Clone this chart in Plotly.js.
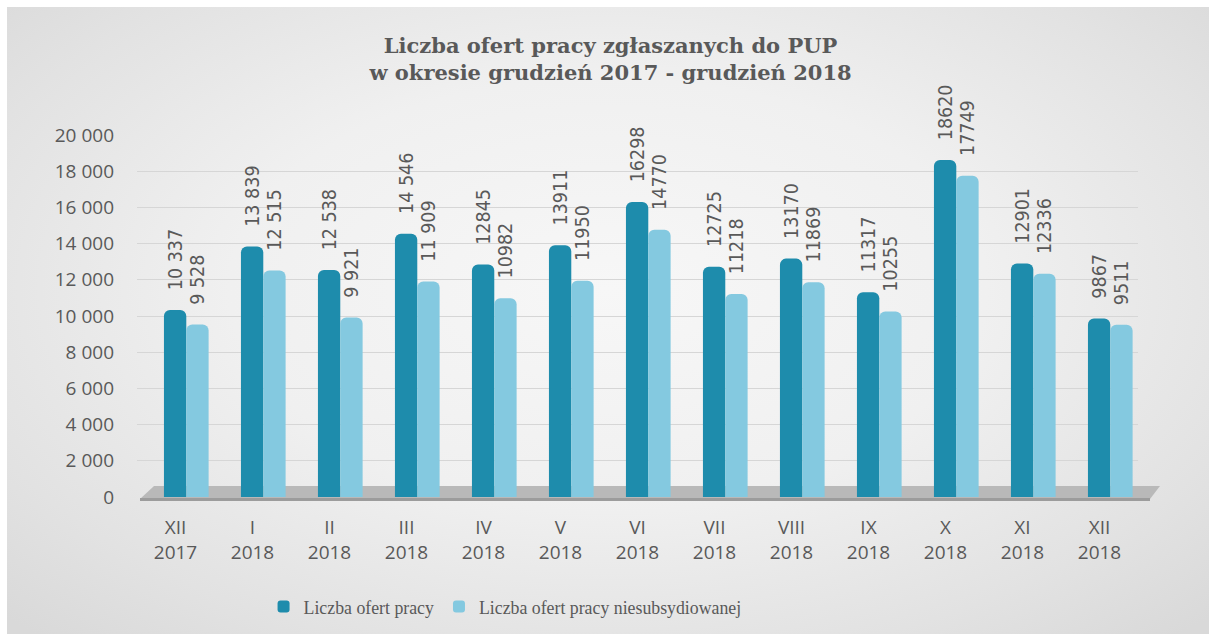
<!DOCTYPE html>
<html>
<head>
<meta charset="utf-8">
<script src="https://cdn.plot.ly/plotly-3.0.1.min.js"></script>
<style>
  html, body { margin: 0; padding: 0; background: #ffffff; }
  #bg { position: absolute; left: 7px; top: 7px; width: 1202px; height: 627px;
        background: radial-gradient(ellipse 70% 75% at 50% 45%, #f7f7f7 0%, #f0f0f0 45%, #e2e2e2 80%, #d9d9d9 100%); }
  #chart { position: absolute; left: 0; top: 0; width: 1209px; height: 634px; }
</style>
</head>
<body>
<div id="bg"></div>
<div id="chart"></div>
<script>
// ---- data ----
const categories = ["XII<br>2017", "I<br>2018", "II<br>2018", "III<br>2018", "IV<br>2018", "V<br>2018",
                    "VI<br>2018", "VII<br>2018", "VIII<br>2018", "IX<br>2018", "X<br>2018", "XI<br>2018", "XII<br>2018"];
const seriesNames = ["Liczba ofert pracy", "Liczba ofert pracy niesubsydiowanej"];
const ofertyPracy = [10337, 13839, 12538, 14546, 12845, 13911, 16298, 12725, 13170, 11317, 18620, 12901, 9867];
const ofertyNiesubs = [9528, 12515, 9921, 11909, 10982, 11950, 14770, 11218, 11869, 10255, 17749, 12336, 9511];
const labelsPracy = ["10 337", "13 839", "12 538", "14 546", "12845", "13911", "16298", "12725", "13170", "11317", "18620", "12901", "9867"];
const labelsNiesubs = ["9 528", "12 515", "9 921", "11 909", "10982", "11950", "14770", "11218", "11869", "10255", "17749", "12336", "9511"];
const titleText = "Liczba ofert pracy zgłaszanych do PUP<br>w okresie grudzień 2017 - grudzień 2018";

// ---- layout geometry ----
const W = 1209, H = 634;
const M = { l: 137, r: 71, t: 135, b: 137 };
const PW = W - M.l - M.r, PH = H - M.t - M.b;
const px = x => (x - M.l) / PW;
const py = y => (H - M.b - y) / PH;

const labelFont = { family: "DejaVu Sans Condensed, DejaVu Sans, sans-serif", size: 19.5, color: "#595959" };
const pad = "\u00a0\u00a0\u00a0";

const traces = [
  {
    type: "bar", name: seriesNames[0], x: categories, y: ofertyPracy,
    text: labelsPracy, texttemplate: pad + "%{text}", textposition: "outside", textangle: -90, constraintext: "none",
    textfont: labelFont, cliponaxis: false,
    offset: -0.15, width: 0.29,
    marker: { color: "#1e8cac", cornerradius: 6, line: { width: 0 } },
    hoverinfo: "y"
  },
  {
    type: "bar", name: seriesNames[1], x: categories, y: ofertyNiesubs,
    text: labelsNiesubs, texttemplate: pad + "%{text}", textposition: "outside", textangle: -90, constraintext: "none",
    textfont: labelFont, cliponaxis: false,
    offset: 0.14, width: 0.29,
    marker: { color: "#84c9e0", cornerradius: 6, line: { width: 0 } },
    hoverinfo: "y"
  }
];

const layout = {
  width: W, height: H,
  paper_bgcolor: "rgba(0,0,0,0)", plot_bgcolor: "rgba(0,0,0,0)",
  margin: M,
  separators: ", ",
  title: {
    text: titleText, x: 0.505, xanchor: "center", y: 0.917, yanchor: "top",
    font: { family: "DejaVu Serif, serif", size: 21, color: "#595959", weight: "bold" }
  },
  barmode: "group",
  xaxis: {
    type: "category", range: [-0.5, 12.5], showgrid: false, zeroline: false, showline: false,
    ticks: "", ticklabelstandoff: 17,
    tickfont: { family: "Open Sans, sans-serif", size: 19, color: "#595959" }
  },
  yaxis: {
    range: [0, 20000], dtick: 2000, tickformat: ",d",
    showgrid: true, gridcolor: "#d6d6d6", gridwidth: 1,
    zeroline: false, showline: false, ticks: "", ticklabelstandoff: 22,
    tickfont: { family: "Open Sans, sans-serif", size: 19, color: "#595959" }
  },
  showlegend: true,
  legend: {
    orientation: "h", xref: "container", yref: "container",
    x: 0.218, xanchor: "left", y: 1 - 607 / H, yanchor: "middle",
    font: { family: "Liberation Serif, serif", size: 17.8, color: "#595959" },
    bgcolor: "rgba(0,0,0,0)", itemwidth: 30, tracegroupgap: 0
  },
  shapes: [
    { type: "path", xref: "paper", yref: "paper", layer: "below",
      path: `M ${px(140)} ${py(499)} L ${px(1150)} ${py(499)} L ${px(1160)} ${py(486)} L ${px(154)} ${py(486)} Z`,
      fillcolor: "#b9b9b9", line: { width: 0 } },
    { type: "path", xref: "paper", yref: "paper", layer: "below",
      path: `M ${px(140)} ${py(501)} L ${px(1150)} ${py(501)} L ${px(1150)} ${py(498)} L ${px(140)} ${py(498)} Z`,
      fillcolor: "#9c9c9c", line: { width: 0 } }
  ]
};

Plotly.newPlot("chart", traces, layout, { displayModeBar: false, responsive: false });
</script>
</body>
</html>
